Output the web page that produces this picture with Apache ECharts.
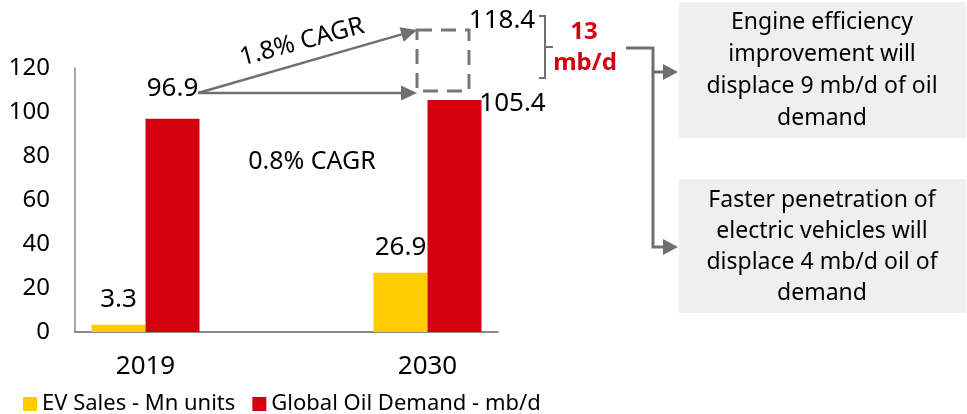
<!DOCTYPE html>
<html>
<head>
<meta charset="utf-8">
<style>
  html, body { margin: 0; padding: 0; background: #ffffff; }
  #chart { width: 967px; height: 414px; }
</style>
<script src="https://cdn.jsdelivr.net/npm/echarts@6/dist/echarts.min.js"></script>
</head>
<body>
<div id="chart"></div>
<script>
// Years shown on the category axis
const categories = ['2019', '2030'];
// EV sales, million units
const evSales = [3.3, 26.9];
// Global oil demand, million barrels per day
const oilDemand = [96.9, 105.4];
// Demand path at the faster growth rate, before displacement
const projectedDemand = 118.4;
// Value-axis ticks
const yTicks = { min: 0, max: 120, interval: 20 };

const seriesNames = ['EV Sales - Mn units', 'Global Oil Demand - mb/d'];
const FONT = '"Noto Sans", "Open Sans", sans-serif';
const GREY = '#707070';
const YELLOW = '#FFCC00';
const RED = '#D5000F';

// A spacer category sits between the two years so they stand apart
const axisData = [categories[0], '', categories[1]];
const spread = arr => [arr[0], null, arr[1]];

const chart = echarts.init(document.getElementById('chart'), null, { renderer: 'canvas' });

function arrowHead(tip, from, len, half) {
  const dx = tip[0] - from[0], dy = tip[1] - from[1];
  const d = Math.sqrt(dx * dx + dy * dy);
  const ux = dx / d, uy = dy / d;
  const bx = tip[0] - ux * len, by = tip[1] - uy * len;
  return {
    base: [bx, by],
    points: [[bx - uy * half, by + ux * half], tip, [bx + uy * half, by - ux * half]]
  };
}

const lineStyle = w => ({ stroke: GREY, lineWidth: w, fill: null });

const start = [198, 93];
const upTip = [417, 30];
const flatTip = [417, 93];
const upHead = arrowHead(upTip, start, 16, 7.5);
const flatHead = arrowHead(flatTip, start, 16, 7.5);
const box1Head = arrowHead([678, 72], [650, 72], 15, 8);
const box2Head = arrowHead([678, 247], [650, 247], 15, 8);

const textBase = { fill: '#000000', fontFamily: FONT };

const graphics = [
  // growth arrows from the 2019 level
  { type: 'polyline', shape: { points: [start, upHead.base] }, style: lineStyle(2.5), z: 10 },
  { type: 'polygon', shape: { points: upHead.points }, style: { fill: GREY }, z: 10 },
  { type: 'polyline', shape: { points: [start, flatHead.base] }, style: lineStyle(2.5), z: 10 },
  { type: 'polygon', shape: { points: flatHead.points }, style: { fill: GREY }, z: 10 },
  {
    type: 'text', x: 302, y: 42, rotation: 15 * Math.PI / 180,
    style: Object.assign({ text: '1.8% CAGR', fontSize: 25, align: 'center', verticalAlign: 'middle' }, textBase),
    z: 10
  },
  {
    type: 'text', x: 312, y: 162,
    style: Object.assign({ text: '0.8% CAGR', fontSize: 25, align: 'center', verticalAlign: 'middle' }, textBase),
    z: 10
  },
  // gap between projected and expected demand
  {
    type: 'rect', shape: { x: 417, y: 30, width: 52, height: 61 },
    style: { fill: null, stroke: '#767676', lineWidth: 3, lineDash: [15, 9] }, z: 10
  },
  {
    type: 'text', x: 502, y: 21,
    style: Object.assign({ text: String(projectedDemand), fontSize: 26, align: 'center', verticalAlign: 'middle' }, textBase),
    z: 10
  },
  {
    type: 'polyline', shape: { points: [[539, 16], [545, 16], [545, 78], [539, 78]] },
    style: lineStyle(2), z: 10
  },
  { type: 'polyline', shape: { points: [[545, 47], [553, 47]] }, style: lineStyle(2), z: 10 },
  {
    type: 'text', x: 584, y: 32,
    style: { text: String(Math.round(projectedDemand - oilDemand[1])), fontSize: 24, fontWeight: 'bold', fill: RED, fontFamily: FONT, align: 'center', verticalAlign: 'middle' },
    z: 10
  },
  {
    type: 'text', x: 585, y: 63,
    style: { text: 'mb/d', fontSize: 24, fontWeight: 'bold', fill: RED, fontFamily: FONT, align: 'center', verticalAlign: 'middle' },
    z: 10
  },
  // connector to the explanation boxes
  {
    type: 'polyline', shape: { points: [[626, 48], [653, 48], [653, 247], [box2Head.base[0], 247]] },
    style: lineStyle(3), z: 10
  },
  { type: 'polyline', shape: { points: [[653, 72], [box1Head.base[0], 72]] }, style: lineStyle(3), z: 10 },
  { type: 'polygon', shape: { points: box1Head.points }, style: { fill: GREY }, z: 10 },
  { type: 'polygon', shape: { points: box2Head.points }, style: { fill: GREY }, z: 10 },
  { type: 'rect', shape: { x: 679, y: 2, width: 287, height: 136 }, style: { fill: '#EFEFEF' }, z: 5 },
  { type: 'rect', shape: { x: 679, y: 179, width: 287, height: 134 }, style: { fill: '#EFEFEF' }, z: 5 },
  {
    type: 'text', x: 822, y: 70,
    style: Object.assign({
      text: 'Engine efficiency\nimprovement will\ndisplace 9 mb/d of oil\ndemand',
      fontSize: 23, lineHeight: 32, align: 'center', verticalAlign: 'middle'
    }, textBase),
    z: 10
  },
  {
    type: 'text', x: 822, y: 247,
    style: Object.assign({
      text: 'Faster penetration of\nelectric vehicles will\ndisplace 4 mb/d oil of\ndemand',
      fontSize: 23, lineHeight: 31, align: 'center', verticalAlign: 'middle'
    }, textBase),
    z: 10
  }
];

const option = {
  animation: false,
  textStyle: { fontFamily: FONT },
  grid: { left: 75, top: 68, width: 423, bottom: 82, containLabel: false },
  legend: {
    left: 18, top: 388,
    icon: 'rect', itemWidth: 14, itemHeight: 14, itemGap: 17,
    textStyle: { fontSize: 22, color: '#000000', fontFamily: FONT },
    data: seriesNames
  },
  xAxis: {
    type: 'category',
    data: axisData,
    axisLine: { show: true, lineStyle: { color: '#8a8a8a', width: 2 } },
    axisTick: { show: false },
    axisLabel: { fontSize: 26, color: '#000000', margin: 22, fontFamily: FONT }
  },
  yAxis: {
    type: 'value',
    min: yTicks.min, max: yTicks.max, interval: yTicks.interval,
    axisLine: { show: true, lineStyle: { color: '#8a8a8a', width: 1.5 } },
    axisTick: { show: false },
    splitLine: { show: false },
    axisLabel: { fontSize: 24, color: '#000000', margin: 25, fontFamily: FONT }
  },
  series: [
    {
      name: seriesNames[0], type: 'bar',
      data: spread(evSales),
      barWidth: 54, barGap: '0%',
      itemStyle: { color: YELLOW },
      label: { show: true, position: 'top', distance: 12, fontSize: 26, color: '#000000', fontFamily: FONT }
    },
    {
      name: seriesNames[1], type: 'bar',
      data: [
        { value: oilDemand[0], label: { distance: 17 } },
        null,
        { value: oilDemand[1], label: { offset: [58, 21] } }
      ],
      barWidth: 54, barGap: '0%',
      itemStyle: { color: RED },
      label: { show: true, position: 'top', distance: 5, fontSize: 26, color: '#000000', fontFamily: FONT }
    }
  ],
  graphic: graphics
};

chart.setOption(option);
</script>
</body>
</html>
